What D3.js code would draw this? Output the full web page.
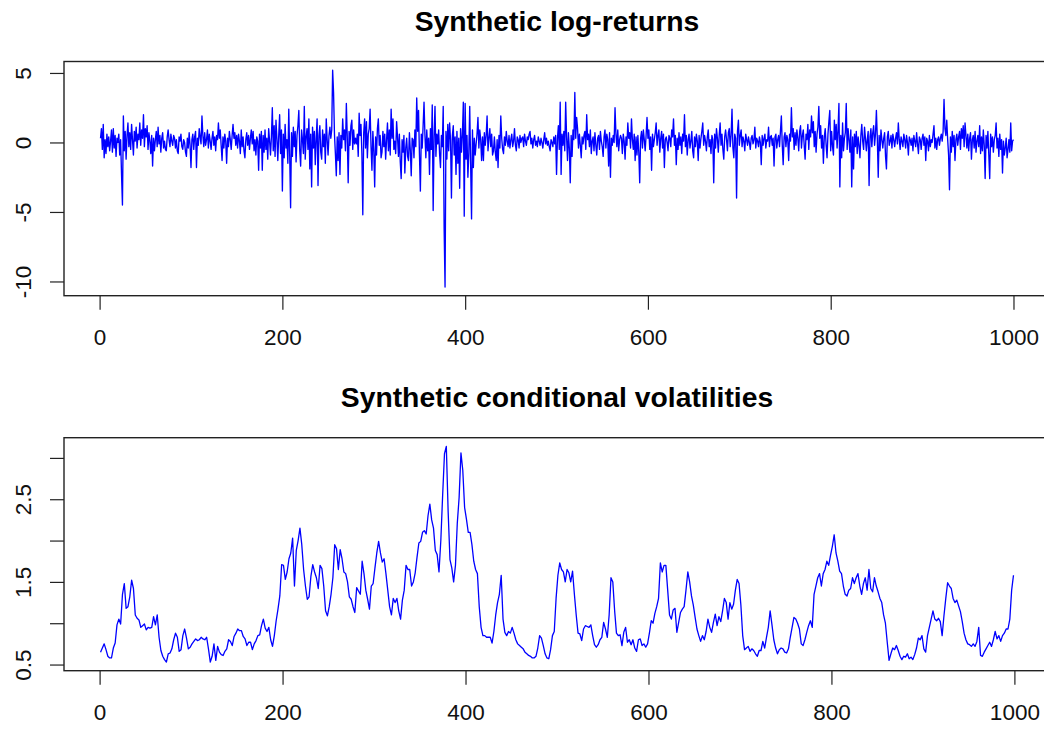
<!DOCTYPE html>
<html>
<head>
<meta charset="utf-8">
<script src="https://cdn.jsdelivr.net/npm/d3@7"></script>
<style>
  html, body { margin: 0; padding: 0; background: #fff; }
  svg { display: block; font-family: "Liberation Sans", Arial, sans-serif; }
</style>
</head>
<body>
<div id="chart"></div>
<script>
// log-returns, one value per day (day 1..1000)
const RETURNS = [
  0.3,1.0,-0.5,1.3,-1.1,0.2,-0.8,0.6,-0.3,0.4,-0.6,0.1,0.9,-0.7,1.0,-0.4,0.5,-1.0,0.3,0.0,0.6,-0.9,0.2,-2.3,-4.5,1.9,-0.6,0.8,-1.2,0.5,1.4,-0.3,0.7,-0.5,1.3,0.2,-0.9,0.8,0.1,1.1,-0.4,0.6,0.2,1.4,-0.2,0.9,0.3,2.0,-0.3,1.0,
  0.4,1.2,-0.5,0.7,0.1,-0.8,0.5,-1.7,0.3,-0.6,0.2,0.8,-0.3,1.1,-0.1,0.5,-0.7,0.3,0.7,-0.4,0.1,-0.5,-0.6,0.4,0.9,0.2,-0.3,0.6,0.1,-0.2,0.5,0.3,-0.4,0.2,-0.6,-0.8,0.4,0.1,0.6,-0.3,-0.5,0.2,0.0,-0.7,-1.0,0.3,-0.4,0.7,-0.2,-1.8,
  0.2,0.6,-0.5,0.4,0.8,-1.8,0.3,-0.2,1.0,0.4,-0.1,1.9,0.5,-0.3,0.7,-0.2,0.2,0.9,-0.4,0.6,0.1,-0.5,0.3,0.8,-0.2,0.4,-0.6,0.5,0.2,1.4,0.3,0.9,-0.2,-1.3,0.4,-0.4,0.6,0.1,-1.5,0.3,-0.3,0.8,0.2,-0.5,0.5,1.3,0.3,0.7,-0.2,0.5,
  -0.4,0.6,0.1,-0.8,0.9,-0.3,0.4,-0.6,-1.1,0.2,0.7,-0.2,0.5,-0.5,0.3,0.9,-0.1,0.8,-0.6,0.2,-0.9,0.4,0.1,-2.0,0.6,-0.4,0.8,-2.0,0.5,-0.7,0.9,-0.5,0.3,-1.2,1.0,0.1,-0.9,0.4,2.5,-0.6,1.2,-1.0,1.6,0.3,-1.3,0.5,2.0,-0.8,0.9,-3.5,
  0.6,-1.1,1.3,-0.4,0.2,-1.5,2.4,-0.9,-4.7,0.7,-1.0,1.1,-0.3,0.8,-1.4,0.5,1.2,2.3,-0.6,-1.7,0.9,0.2,-0.8,2.6,-1.2,0.4,1.0,-0.5,1.7,-1.9,0.6,-3.2,1.1,-0.4,0.8,-1.6,0.3,1.7,-3.1,0.5,1.2,-0.7,-1.2,0.9,-0.3,0.6,-1.5,1.7,0.2,-0.9,
  0.5,1.1,0.3,0.9,5.2,3.6,0.6,-0.8,-2.4,0.4,-1.3,0.7,-2.3,0.5,-0.4,1.7,0.2,0.9,-0.6,2.8,0.4,-2.9,0.8,-0.2,1.2,1.6,-0.5,0.9,-0.1,0.3,-0.1,0.6,-1.0,2.1,0.5,1.3,-0.8,-5.2,0.7,1.7,-0.4,1.5,-1.1,0.6,1.0,2.4,-0.3,-2.0,0.8,-0.6,
  -3.2,0.4,-0.9,1.0,1.7,-0.2,0.5,-1.1,-0.7,0.8,-0.3,0.6,-1.2,0.2,1.4,-0.6,0.9,-0.9,2.4,0.3,1.7,-0.5,0.1,-0.8,1.5,0.4,-1.0,0.6,-1.4,-2.6,0.2,-0.7,0.5,-2.2,-0.4,0.3,-1.0,-1.3,0.7,-0.6,-2.4,0.3,0.2,-1.1,0.9,-0.3,3.2,0.8,2.3,-0.9,
  -3.5,0.6,-0.4,1.2,2.9,0.5,-1.1,0.9,-0.6,0.3,-2.3,1.0,-0.5,2.7,-4.9,0.4,2.6,-1.0,0.6,-0.1,0.9,-0.8,-1.8,0.5,-0.3,2.6,-6.2,-10.4,0.8,-1.2,1.3,-0.6,1.4,0.2,-4.0,0.5,1.2,-0.9,0.4,-2.3,0.8,-1.5,0.3,-3.3,1.0,-0.7,0.6,2.9,-5.3,2.8,
  -1.2,0.5,-2.5,-0.8,2.6,-1.6,-5.5,0.9,-1.8,0.3,-0.9,-0.1,0.6,1.8,-0.4,0.9,0.2,-1.3,0.4,-1.3,0.7,-0.2,0.5,1.9,-0.6,0.3,1.0,-0.3,0.6,-0.9,-0.6,0.4,-0.7,-1.3,0.2,-1.8,0.5,-0.4,1.9,0.3,-0.5,-0.8,0.4,-0.2,0.8,0.1,-0.3,0.5,-0.4,0.2,
  0.6,-0.3,0.1,1.0,-0.2,-0.6,0.4,0.2,-0.4,0.5,0.0,0.3,0.4,-0.3,0.6,0.1,-0.2,0.4,0.2,0.6,0.8,-0.1,0.3,-0.4,0.2,0.5,-0.2,0.1,-0.3,0.4,0.1,-0.2,0.3,0.0,-0.4,0.2,0.7,-0.1,0.3,-0.2,0.1,-0.3,-0.6,0.2,0.0,-0.3,0.4,-0.1,0.5,-2.3,
  0.3,1.2,-0.5,2.9,-2.3,0.6,-0.2,0.8,-0.6,2.9,0.4,-1.3,0.7,-0.4,-2.9,0.5,-1.0,0.9,0.2,3.6,0.3,1.8,1.0,-0.4,0.6,-0.2,-1.1,0.4,-0.1,0.5,0.8,-0.5,2.0,0.2,0.6,-0.3,0.9,-0.8,0.1,0.4,-0.6,0.7,-0.2,-0.9,0.3,0.5,-0.5,0.8,0.1,-0.3,
  -1.0,0.4,0.9,-0.4,0.6,0.2,-1.7,0.7,-2.5,0.3,-0.2,0.5,0.0,2.5,0.6,-0.3,0.9,-0.6,0.2,0.5,0.3,-0.8,0.6,0.1,-1.2,0.4,-0.2,1.4,0.3,0.7,-0.4,1.7,0.2,-0.5,0.6,-1.3,0.4,-0.9,0.5,-0.7,-2.9,0.3,0.8,-0.4,0.9,0.2,-0.6,0.5,1.8,0.3,
  0.9,-0.5,0.4,-2.0,0.6,-0.3,0.2,0.7,1.4,-0.2,0.5,0.9,-0.7,0.3,0.8,-0.4,0.6,-1.8,0.2,0.4,0.0,-0.6,0.5,0.3,-0.3,0.9,0.4,1.7,-0.2,0.5,-1.6,0.3,-0.5,0.7,-0.2,0.4,-0.8,0.6,0.1,2.0,-0.3,0.5,-0.9,0.2,0.6,-0.4,0.1,0.8,-0.6,-1.1,
  0.4,-0.3,0.6,0.1,-1.3,0.5,-0.4,0.3,0.8,1.4,-0.2,0.5,0.1,-0.6,0.4,0.9,-0.3,0.2,-0.8,0.5,0.2,-2.9,0.6,-0.4,1.0,0.3,-0.7,0.5,1.4,-0.2,0.6,-0.5,-1.2,0.4,0.9,0.2,-0.6,0.7,1.0,-0.3,0.5,2.4,-0.4,-1.1,0.6,0.3,-4.0,0.8,1.6,-0.2,
  0.5,0.9,-0.3,0.4,0.1,-0.6,0.6,0.2,-0.2,0.4,0.0,-0.5,0.3,0.5,-0.1,0.2,1.1,-0.4,0.3,0.1,-0.3,0.4,0.0,-1.6,0.5,-0.2,0.3,0.6,-0.4,0.2,0.1,1.1,-0.3,0.4,0.5,-0.2,0.3,-1.7,0.4,0.6,-0.4,0.2,0.5,-0.3,0.8,1.9,-0.2,-1.6,0.4,0.7,
  -0.3,0.5,0.2,-1.3,0.6,0.1,2.5,0.4,1.0,-0.5,0.7,-0.2,0.9,0.3,-0.6,0.8,1.2,-0.4,0.5,0.9,-0.2,-1.2,0.6,0.2,1.3,-0.5,0.9,0.4,1.9,0.7,1.5,-0.3,0.8,-0.7,0.6,1.1,2.6,0.3,1.2,-0.4,0.5,-1.5,0.4,1.0,-0.2,-1.1,0.6,1.5,2.3,-0.6,
  0.8,-0.3,-0.9,1.6,0.2,1.3,-0.4,0.9,2.8,-3.2,0.5,-1.1,1.4,-0.6,0.3,0.7,2.8,-0.5,1.0,0.2,-0.7,0.9,-3.2,0.4,-1.9,0.6,-0.3,0.8,-0.8,0.4,-0.2,-1.1,0.5,1.3,0.1,-0.5,1.1,0.3,-0.6,0.2,0.8,-3.1,0.4,1.0,-0.3,0.7,1.2,-0.2,0.6,2.3,
  0.3,-2.5,0.5,-0.6,0.9,0.2,-0.4,0.3,0.7,-1.0,-1.9,0.4,0.8,-0.2,0.1,0.5,-0.4,0.6,0.2,-0.3,0.3,0.7,-0.1,1.4,0.2,-0.5,0.4,0.1,-0.3,0.6,0.2,-0.4,0.5,0.0,-0.9,0.4,0.2,-0.2,0.3,-0.6,0.5,0.1,-0.3,0.7,-0.1,-0.8,0.4,0.2,-0.5,0.3,
  0.6,-0.2,0.4,-1.3,0.3,0.1,-0.6,0.5,-0.3,0.2,0.0,0.6,1.2,-0.4,0.3,-0.5,0.2,0.4,-0.2,0.3,0.6,0.1,0.8,3.1,1.0,0.5,1.6,0.2,-0.9,-3.4,0.4,-0.7,0.8,-0.3,0.5,-1.3,0.2,0.6,-0.2,0.4,0.8,-0.5,1.0,0.3,1.2,-0.3,1.4,0.5,-0.4,0.6,
  -0.6,0.3,0.7,-1.2,0.2,0.5,-0.4,0.8,-0.7,0.1,0.5,-0.3,1.2,-0.8,0.4,-0.6,0.9,-0.2,-2.6,0.5,-0.4,0.8,-0.9,-2.6,0.6,-0.3,0.4,-0.7,0.2,0.5,1.4,-0.4,0.3,-1.0,0.6,-0.5,0.2,-2.2,0.1,-0.9,-0.4,0.3,-1.1,-0.5,0.2,-0.7,1.4,-0.6,0.1,0.2
];

// conditional volatilities, read every second day (day 1, 3, ..., 999)
const VOLATILITY = [
  0.65,0.70,0.75,0.68,0.60,0.58,0.58,0.70,0.76,0.98,
  1.05,0.99,1.35,1.48,1.18,1.20,1.32,1.52,1.42,1.10,
  1.06,1.04,0.95,0.97,0.99,0.92,0.95,0.94,0.95,1.08,
  0.98,1.10,0.83,0.67,0.60,0.56,0.53,0.63,0.64,0.69,
  0.80,0.88,0.83,0.66,0.68,0.85,0.93,0.82,0.69,0.71,
  0.75,0.78,0.81,0.79,0.80,0.83,0.81,0.80,0.83,0.69,
  0.53,0.60,0.75,0.55,0.72,0.65,0.62,0.61,0.66,0.69,
  0.80,0.78,0.73,0.84,0.88,0.93,0.91,0.91,0.84,0.81,
  0.73,0.77,0.77,0.68,0.75,0.79,0.85,0.86,0.97,1.05,
  0.94,0.90,0.95,0.80,0.72,0.85,1.03,1.17,1.33,1.71,
  1.70,1.53,1.62,1.78,1.85,2.03,1.45,1.88,2.00,2.15,
  1.95,1.65,1.45,1.29,1.32,1.57,1.71,1.62,1.55,1.42,
  1.70,1.66,1.45,1.15,1.09,1.20,1.35,1.55,1.95,1.90,
  1.65,1.89,1.78,1.62,1.60,1.50,1.32,1.29,1.20,1.13,
  1.43,1.39,1.35,1.75,1.60,1.40,1.29,1.17,1.45,1.48,
  1.67,1.85,1.99,1.85,1.74,1.78,1.60,1.40,1.20,1.10,
  1.30,1.25,1.30,1.15,1.05,1.28,1.40,1.70,1.65,1.65,
  1.45,1.50,1.61,1.80,1.97,1.99,2.10,2.12,2.08,2.30,
  2.44,2.25,2.15,1.88,1.83,1.62,2.00,2.55,3.05,3.14,
  2.35,1.77,1.67,1.50,1.70,2.21,2.52,3.06,2.85,2.40,
  2.26,2.10,2.10,1.95,1.75,1.65,1.60,1.20,0.95,0.85,
  0.85,0.83,0.83,0.83,0.76,0.90,1.10,1.25,1.35,1.58,
  1.05,0.89,0.85,0.90,0.88,0.95,0.88,0.80,0.75,0.73,
  0.71,0.69,0.65,0.63,0.61,0.60,0.58,0.58,0.60,0.70,
  0.85,0.82,0.73,0.63,0.58,0.57,0.68,0.85,0.90,1.30,
  1.58,1.73,1.65,1.62,1.50,1.65,1.61,1.50,1.63,1.35,
  1.10,0.88,0.87,0.79,0.93,0.97,0.96,0.95,0.98,0.85,
  0.74,0.71,0.74,0.80,0.83,1.01,0.93,0.83,1.10,1.55,
  1.50,1.15,0.88,0.85,0.86,0.73,0.89,0.95,0.77,0.80,
  0.74,0.80,0.70,0.66,0.80,0.81,0.73,0.75,0.71,0.75,
  0.88,1.03,1.00,1.12,1.20,1.30,1.73,1.62,1.70,1.70,
  1.40,1.10,1.05,1.16,1.18,0.89,1.01,1.13,1.17,1.20,
  1.40,1.62,1.50,1.33,1.22,1.07,0.93,0.85,0.78,0.85,
  0.80,0.90,1.05,0.95,0.89,1.01,1.11,0.97,1.08,1.02,
  1.15,1.30,1.25,1.05,1.25,1.17,1.23,1.40,1.53,1.48,
  1.22,0.85,0.68,0.70,0.72,0.66,0.69,0.67,0.63,0.60,
  0.67,0.67,0.78,0.70,0.83,0.95,1.15,0.98,0.80,0.70,
  0.63,0.68,0.70,0.69,0.65,0.64,0.69,0.83,0.95,1.07,
  1.05,1.00,0.93,0.75,0.73,0.80,0.89,0.97,1.03,0.95,
  1.35,1.45,1.55,1.60,1.45,1.60,1.65,1.75,1.70,1.82,
  1.93,2.07,1.85,1.75,1.63,1.60,1.45,1.35,1.33,1.40,
  1.42,1.55,1.48,1.55,1.60,1.45,1.35,1.48,1.55,1.40,
  1.65,1.42,1.38,1.55,1.45,1.38,1.30,1.25,1.10,1.00,
  0.77,0.55,0.63,0.70,0.68,0.73,0.67,0.60,0.56,0.60,
  0.59,0.63,0.57,0.59,0.56,0.62,0.70,0.82,0.80,0.85,
  0.69,0.65,0.85,0.95,1.05,1.15,1.05,1.03,1.06,1.02,
  0.85,1.09,1.30,1.49,1.45,1.42,1.30,1.25,1.28,1.21,
  1.14,1.02,0.88,0.80,0.75,0.74,0.72,0.75,0.72,0.78,
  0.95,0.61,0.60,0.65,0.69,0.73,0.77,0.72,0.80,0.90,
  0.81,0.85,0.78,0.85,0.88,0.93,0.93,1.05,1.40,1.58
];

const X_TICKS = [0, 200, 400, 600, 800, 1000];
const RET_TICKS = [-10, -5, 0, 5];
const VOL_TICKS = [0.5, 1, 1.5, 2, 2.5, 3];
const VOL_TICK_LABELS = ["0.5", "", "1.5", "", "2.5", ""]; // R drops overlapping labels
const TITLES = ["Synthetic log-returns", "Synthetic conditional volatilities"];

const W = 1044, H = 729;
const svg = d3.select("#chart").append("svg")
  .attr("width", W).attr("height", H)
  .attr("viewBox", [0, 0, W, H]);

// R style: pad the data range by 4% on each side
function padded(ext) {
  const d = (ext[1] - ext[0]) * 0.04;
  return [ext[0] - d, ext[1] + d];
}

// plain hyphen minus, no thousands separator (like R)
const plain = d => String(d);

function drawPanel(p) {
  const x = d3.scaleLinear()
    .domain(padded(d3.extent(p.data, d => d.day)))
    .range([p.left, p.right]);
  const y = d3.scaleLinear()
    .domain(padded(d3.extent(p.data, d => d.value)))
    .range([p.bottom, p.top]);

  const g = svg.append("g");

  g.append("path")
    .datum(p.data)
    .attr("fill", "none")
    .attr("stroke", "#0000ff")
    .attr("stroke-width", p.lineWidth)
    .attr("stroke-linejoin", "round")
    .attr("d", d3.line().x(d => x(d.day)).y(d => y(d.value)));

  // bottom axis
  const xa = g.append("g")
    .attr("transform", `translate(0,${p.bottom})`)
    .call(d3.axisBottom(x).tickValues(X_TICKS).tickFormat(plain)
      .tickSize(14).tickSizeOuter(0).tickPadding(19));
  xa.select(".domain").remove();

  // left axis
  const ya = g.append("g")
    .attr("transform", `translate(${p.left},0)`)
    .call(d3.axisLeft(y).tickValues(p.yTicks).tickSize(14).tickSizeOuter(0)
      .tickFormat((d, i) => p.yLabels ? p.yLabels[i] : plain(d)));
  ya.select(".domain").remove();
  ya.selectAll(".tick text")
    .attr("x", null).attr("dy", null)
    .attr("text-anchor", "middle")
    .attr("transform", "translate(-33,0) rotate(-90)");

  g.selectAll(".tick line").attr("stroke", "#222").attr("stroke-width", 1.2);
  g.selectAll(".tick text")
    .attr("fill", "#111")
    .attr("font-size", 22.5)
    .attr("font-family", '"Liberation Sans", Arial, sans-serif');

  // plot box
  g.append("rect")
    .attr("x", p.left).attr("y", p.top)
    .attr("width", p.right - p.left).attr("height", p.bottom - p.top)
    .attr("fill", "none").attr("stroke", "#222").attr("stroke-width", 1.4);

  g.append("text")
    .attr("x", (p.left + p.right) / 2)
    .attr("y", p.top - 31)
    .attr("text-anchor", "middle")
    .attr("font-size", 28.3)
    .attr("font-weight", 700)
    .attr("fill", "#000")
    .text(p.title);
}

drawPanel({
  data: RETURNS.map((v, i) => ({ day: i + 1, value: v })),
  left: 64, right: 1050, top: 61.5, bottom: 295.7,
  yTicks: RET_TICKS, title: TITLES[0], lineWidth: 1.35
});

drawPanel({
  data: VOLATILITY.map((v, i) => ({ day: 1 + 2 * i, value: v })),
  left: 64, right: 1050, top: 437.7, bottom: 670.7,
  yTicks: VOL_TICKS, yLabels: VOL_TICK_LABELS, title: TITLES[1], lineWidth: 1.3
});
</script>
</body>
</html>
